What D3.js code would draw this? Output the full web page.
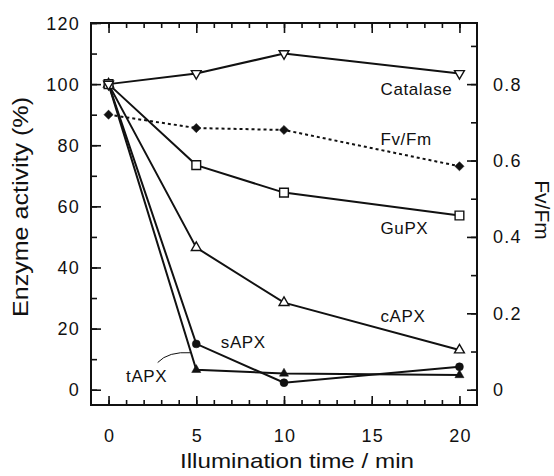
<!DOCTYPE html>
<html lang="en">
<head>
<meta charset="UTF-8">
<title>Enzyme activity</title>
<script src="https://d3js.org/d3.v7.min.js"></script>
<style>
  body { margin: 0; background: #fff; }
  svg text { font-family: "Liberation Sans", Arial, sans-serif; fill: #111; }
  .axis path { display: none; }
  .axis line { stroke: #111; stroke-width: 1.6; }
  .tick-lbl { font-size: 18px; letter-spacing: 1.2px; }
</style>
</head>
<body>
<svg id="chart" width="554" height="476"></svg>
<script>
// illumination time (min)
var times = [0, 5, 10, 20];

// enzyme activity (%) , left axis
var catalase = [100, 103.5, 110, 103.5];
var gupx = [100, 73.5, 64.5, 57];
var capx = [100, 46.5, 28.5, 13];
var sapx = [100, 15, 2.3, 7.5];
var tapx = [100, 6.5, 5.3, 4.8];

// Fv/Fm, right axis
var fvfm = [0.72, 0.685, 0.68, 0.585];

var leftTicks = [0, 20, 40, 60, 80, 100, 120];
var rightTicks = [0, 0.2, 0.4, 0.6, 0.8];
var xTicks = [0, 5, 10, 15, 20];

const width = 554, height = 476;
const margin = { top: 23, right: 77, bottom: 71, left: 91 };

const svg = d3.select("#chart");

const x = d3.scaleLinear().domain([-1, 21]).range([margin.left, width - margin.right]);
const y = d3.scaleLinear().domain([-5, 120]).range([height - margin.bottom, margin.top]);
const y2 = d3.scaleLinear().domain([-0.04, 0.96]).range([height - margin.bottom, margin.top]);

const x0 = margin.left, x1 = width - margin.right;
const yTop = margin.top, yBot = height - margin.bottom;

// ticks (all pointing inward)
svg.append("g").attr("class", "axis").attr("transform", `translate(0,${yBot})`)
   .call(d3.axisBottom(x).tickValues(d3.range(0, 21)).tickSize(-5).tickFormat(""));
svg.append("g").attr("class", "axis").attr("transform", `translate(0,${yBot})`)
   .call(d3.axisBottom(x).tickValues(xTicks).tickSize(-9).tickFormat(""));
svg.append("g").attr("class", "axis").attr("transform", `translate(0,${yTop})`)
   .call(d3.axisTop(x).tickValues(d3.range(0, 21)).tickSize(-5).tickFormat(""));
svg.append("g").attr("class", "axis").attr("transform", `translate(0,${yTop})`)
   .call(d3.axisTop(x).tickValues(xTicks).tickSize(-10).tickFormat(""));

svg.append("g").attr("class", "axis").attr("transform", `translate(${x0},0)`)
   .call(d3.axisLeft(y).tickValues(d3.range(0, 121, 10)).tickSize(-6).tickFormat(""));
svg.append("g").attr("class", "axis").attr("transform", `translate(${x0},0)`)
   .call(d3.axisLeft(y).tickValues(leftTicks).tickSize(-10).tickFormat(""));
svg.append("g").attr("class", "axis").attr("transform", `translate(${x1},0)`)
   .call(d3.axisRight(y2).tickValues(d3.range(0, 10).map(d => d / 10)).tickSize(-6).tickFormat(""));
svg.append("g").attr("class", "axis").attr("transform", `translate(${x1},0)`)
   .call(d3.axisRight(y2).tickValues(rightTicks).tickSize(-10).tickFormat(""));

// frame
svg.append("rect")
   .attr("x", x0).attr("y", yTop)
   .attr("width", x1 - x0).attr("height", yBot - yTop)
   .attr("fill", "none").attr("stroke", "#111").attr("stroke-width", 2);

// tick labels
svg.selectAll(".lt").data(leftTicks).enter().append("text")
   .attr("class", "tick-lbl").attr("text-anchor", "end")
   .attr("x", 80).attr("y", d => y(d) + 6.5).text(d => d);
svg.selectAll(".rt").data(rightTicks).enter().append("text")
   .attr("class", "tick-lbl").attr("text-anchor", "start")
   .attr("x", 493).attr("y", d => y2(d) + 6.5).text(d => d);
svg.selectAll(".bt").data(xTicks).enter().append("text")
   .attr("class", "tick-lbl").attr("text-anchor", "middle")
   .attr("x", d => x(d) + 1).attr("y", 442).text(d => d);

// axis titles
svg.append("text")
   .attr("transform", "translate(297,468)")
   .attr("text-anchor", "middle").attr("font-size", 21)
   .attr("textLength", 234).attr("lengthAdjust", "spacingAndGlyphs")
   .text("Illumination time / min");
svg.append("text")
   .attr("transform", "translate(28,207) rotate(-90)")
   .attr("text-anchor", "middle").attr("font-size", 22)
   .attr("textLength", 220).attr("lengthAdjust", "spacingAndGlyphs")
   .text("Enzyme activity (%)");
svg.append("text")
   .attr("transform", "translate(535,210) rotate(90)")
   .attr("text-anchor", "middle").attr("font-size", 21)
   .text("Fv/Fm");

// series
const line = d3.line().x((d, i) => x(times[i])).y(d => y(d));
const line2 = d3.line().x((d, i) => x(times[i])).y(d => y2(d));

function drawLine(vals, gen, dash) {
    svg.append("path").datum(vals)
       .attr("d", gen)
       .attr("fill", "none").attr("stroke", "#111").attr("stroke-width", 2)
       .attr("stroke-dasharray", dash || null);
}
drawLine(catalase, line);
drawLine(gupx, line);
drawLine(capx, line);
drawLine(sapx, line);
drawLine(tapx, line);
drawLine(fvfm, line2, "3,3");

function drawMarks(vals, scale, shape, size, filled, rot) {
    svg.selectAll(null).data(vals).enter().append("path")
       .attr("d", d3.symbol().type(shape).size(size))
       .attr("transform", (d, i) => `translate(${x(times[i])},${scale(d)}) rotate(${rot || 0})`)
       .attr("fill", filled ? "#111" : "#fff")
       .attr("stroke", "#111").attr("stroke-width", filled ? 0.5 : 1.4);
}
// open square and catalase triangle drawn last, they cover the t = 0 point
drawMarks(tapx, y, d3.symbolTriangle, 36, true);
drawMarks(sapx, y, d3.symbolCircle, 50, true);
drawMarks(capx, y, d3.symbolTriangle, 42, false);
drawMarks(fvfm, y2, d3.symbolSquare, 42, true, 45);
drawMarks(gupx, y, d3.symbolSquare, 76, false);
drawMarks(catalase, y, d3.symbolTriangle, 42, false, 180);

// series labels (in data units)
var labelNames = ["Catalase", "Fv/Fm", "GuPX", "cAPX", "sAPX", "tAPX"];
var labelX = [15.5, 15.5, 15.5, 15.5, 6.4, 1.0];
var labelY = [96.5, 80, 51, 22, 13.5, 2.6];

svg.selectAll(".slbl").data(labelNames).enter().append("text")
   .attr("font-size", 17).attr("letter-spacing", 0.6)
   .attr("x", (d, i) => x(labelX[i])).attr("y", (d, i) => y(labelY[i]))
   .text(d => d);

// leader from tAPX label to its line
var leadX = [2.8, 3.4, 4.7];
var leadY = [8.9, 12.6, 12.1];
svg.append("path")
   .attr("d", `M${x(leadX[0])},${y(leadY[0])} Q${x(leadX[1])},${y(leadY[1])} ${x(leadX[2])},${y(leadY[2])}`)
   .attr("fill", "none").attr("stroke", "#111").attr("stroke-width", 1);
</script>
</body>
</html>
